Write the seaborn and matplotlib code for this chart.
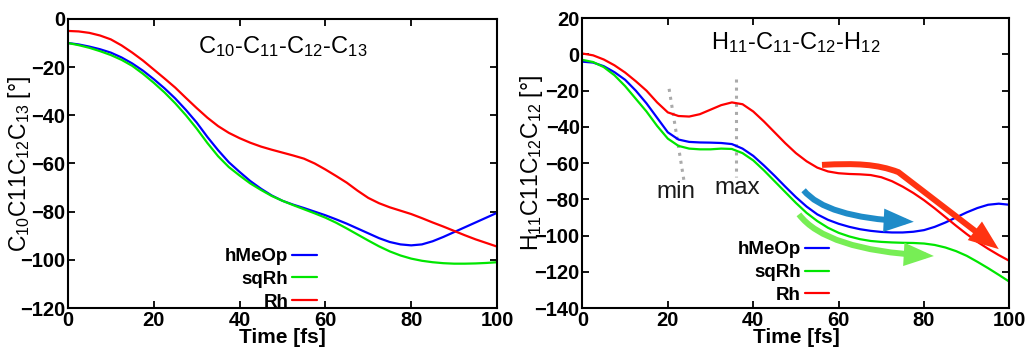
import numpy as np
import pandas as pd
import matplotlib
matplotlib.use("Agg")
import matplotlib.pyplot as plt
from matplotlib.patches import FancyArrowPatch
from matplotlib.path import Path
import seaborn as sns

# ---------------- data ----------------
time_fs = [0, 2.5, 5, 7.5, 10, 12.5, 15, 17.5, 20, 22.5, 25, 27.5, 30, 32.5, 35, 37.5, 40,
           42.5, 45, 47.5, 50, 52.5, 55, 57.5, 60, 62.5, 65, 67.5, 70, 72.5, 75, 77.5, 80,
           82.5, 85, 87.5, 90, 92.5, 95, 97.5, 100]
series_names = ["hMeOp", "sqRh", "Rh"]

# Left panel: C10-C11-C12-C13 dihedral
left_hMeOp = [-10, -10.6, -11.5, -12.6, -14, -16, -18.5, -21.5, -25, -28.8, -33, -37.8, -43,
              -49, -54.5, -59.5, -63.5, -67.3, -70.5, -73.3, -75.5, -77.1, -78.5, -80, -81.5,
              -83.2, -85, -87, -89, -91, -92.6, -93.6, -94, -93.6, -92.3, -90.5, -88.5, -86.5,
              -84.5, -82.5, -80.5]
left_sqRh = [-10, -10.9, -12, -13.4, -15, -17, -19.5, -22.8, -26.5, -30.5, -35, -40, -45.5,
             -51.5, -57, -61.5, -65, -68.3, -71, -73.5, -75.5, -77.3, -79, -80.7, -82.5, -84.6,
             -87, -89.5, -92, -94.4, -96.5, -98.2, -99.5, -100.4, -101, -101.4, -101.6, -101.6,
             -101.5, -101.3, -101]
left_Rh = [-5, -5.2, -5.8, -6.9, -8.5, -11, -14, -17.3, -21, -24.7, -28.5, -32.8, -37, -41,
           -44.5, -47.3, -49.5, -51.4, -53, -54.3, -55.5, -56.7, -58, -60, -62.5, -65.2, -68,
           -71.3, -74.3, -76.5, -78.2, -79.6, -81, -82.7, -84.5, -86.2, -88, -89.8, -91.5, -93,
           -94.5]

# Right panel: H11-C11-C12-H12 dihedral
right_hMeOp = [-4, -4.5, -6.5, -9.8, -14, -20, -27, -35, -43, -47, -48.3, -48.6, -48.7, -48.9,
               -49.5, -52, -56, -61.3, -67, -73, -78.8, -84, -88.3, -91.3, -93.5, -95.2, -96.5,
               -97.4, -98, -98.3, -98.3, -97.9, -97, -95.2, -92.8, -90, -87.2, -84.8, -83, -82.4,
               -83]
right_sqRh = [-3, -4.2, -7, -11.5, -17.5, -24.5, -31.5, -39.5, -46.5, -50.5, -52, -52.4, -52.4,
              -52, -52.2, -54.5, -58.5, -64, -70, -76, -82, -87.5, -92, -95.7, -98.5, -100.5,
              -102, -103, -103.5, -103.8, -104, -104.1, -104.4, -105.2, -106.6, -108.6, -111.2,
              -114.5, -118, -121.7, -125.5]
right_Rh = [0.5, -0.5, -2.8, -6, -10, -14.8, -20, -26.5, -32, -34, -34.3, -33, -30.5, -28,
            -26.5, -27.5, -31.5, -37, -43, -49, -54.5, -59, -62.5, -64.6, -65.6, -66, -66.2,
            -66.6, -67.8, -70, -73, -76.5, -80.5, -85, -89.8, -94.6, -99.2, -103.5, -107.3,
            -110.8, -114]

colors = {"hMeOp": "#0000ff", "sqRh": "#00e600", "Rh": "#ff0000"}

left_title = "C$_{10}$-C$_{11}$-C$_{12}$-C$_{13}$"
right_title = "H$_{11}$-C$_{11}$-C$_{12}$-H$_{12}$"
left_ylabel = "C$_{10}$C11C$_{12}$C$_{13}$ [°]"
right_ylabel = "H$_{11}$C11C$_{12}$C$_{12}$ [°]"
xlabel = "Time [fs]"

left_yticks = [0, -20, -40, -60, -80, -100, -120]
right_yticks = [20, 0, -20, -40, -60, -80, -100, -120, -140]
xticks = [0, 20, 40, 60, 80, 100]

# annotation guides (right panel)
min_guide = ([20.3, 23.8], [-19, -70])
max_guide = ([35.9, 35.9], [-13.5, -67.5])
min_label = (22, -76, "min")
max_label = (36.3, -74, "max")

# trend arrows (right panel)
blue_arrow = [(51.8, -75), (57, -90), (77.6, -92.4)]
green_arrow = [(50.7, -88.3), (57, -108), (82.3, -111.3)]
red_arrow = [(56.1, -61), (64, -60), (69, -60.5), (74, -65), (97.5, -107.5)]


def long_df(h, s, r):
    frames = []
    for name, vals in zip(series_names, [h, s, r]):
        frames.append(pd.DataFrame({"t": time_fs, "v": vals, "series": name}))
    return pd.concat(frames, ignore_index=True)


df_left = long_df(left_hMeOp, left_sqRh, left_Rh)
df_right = long_df(right_hMeOp, right_sqRh, right_Rh)

# ---------------- style ----------------
sns.set_theme(style="ticks")
plt.rcParams["font.family"] = ["Liberation Sans", "DejaVu Sans"]
plt.rcParams["mathtext.fontset"] = "custom"
plt.rcParams["mathtext.rm"] = "Liberation Sans"
plt.rcParams["mathtext.it"] = "Liberation Sans:italic"
plt.rcParams["mathtext.bf"] = "Liberation Sans:bold"
plt.rcParams["text.color"] = "black"
plt.rcParams["axes.labelcolor"] = "black"
plt.rcParams["xtick.color"] = "black"
plt.rcParams["ytick.color"] = "black"

fig = plt.figure(figsize=(10.29, 3.5), dpi=100)
axL = fig.add_axes([0.066, 0.12, 0.417, 0.826])
axR = fig.add_axes([0.566, 0.12, 0.415, 0.828])


def style_axis(ax, yticks, ylim, ylabel, title, leg_anchor, ylab_x):
    ax.set_xlim(0, 100)
    ax.set_ylim(*ylim)
    ax.set_xticks(xticks)
    ax.set_yticks(yticks)
    ax.tick_params(direction="in", length=5, width=1.3, top=True, right=True,
                   labelsize=14.5, pad=2, colors="black")
    for lab in ax.get_xticklabels() + ax.get_yticklabels():
        lab.set_fontweight("bold")
    for sp in ax.spines.values():
        sp.set_visible(True)
        sp.set_linewidth(1.5)
        sp.set_color("black")
    ax.set_xlabel(xlabel, fontsize=15, fontweight="bold", labelpad=-1, color="black")
    ax.set_ylabel(ylabel, fontsize=16.5, color="black")
    ax.yaxis.set_label_coords(ylab_x, 0.5)
    ax.text(50, title[1], title[0], fontsize=17, ha="center", va="center", color="black")
    handles, labels = ax.get_legend_handles_labels()
    leg = ax.legend(handles, labels, loc="lower right", bbox_to_anchor=leg_anchor,
                    frameon=False, markerfirst=False, handlelength=1.3,
                    handletextpad=0.2, labelspacing=0.3, borderaxespad=0,
                    prop={"weight": "bold", "size": 13.5})
    for t in leg.get_texts():
        t.set_ha("right")
        t.set_color("black")


for ax, df in [(axL, df_left), (axR, df_right)]:
    sns.lineplot(data=df, x="t", y="v", hue="series", hue_order=series_names,
                 palette=colors, linewidth=1.6, ax=ax, legend=True, sort=False)

style_axis(axL, left_yticks, (-120, 0), left_ylabel, (left_title, -11.5), (0.597, -0.035), -0.082)
style_axis(axR, right_yticks, (-140, 20), right_ylabel, (right_title, 6.5), (0.595, -0.012), -0.087)

# guides and labels in right panel
axR.plot(*min_guide, color="#aaaaaa", linestyle=":", linewidth=2.2, zorder=1)
axR.plot(*max_guide, color="#aaaaaa", linestyle=":", linewidth=2.2, zorder=1)
axR.text(min_label[0], min_label[1], min_label[2], fontsize=17.5, ha="center", va="center", color="#1a1a1a")
axR.text(max_label[0], max_label[1], max_label[2], fontsize=17.5, ha="center", va="center", color="#1a1a1a")


def curved_arrow(ax, pts, color, lw):
    if len(pts) == 3:
        codes = [Path.MOVETO, Path.CURVE3, Path.CURVE3]
    else:
        codes = [Path.MOVETO, Path.CURVE4, Path.CURVE4, Path.CURVE4, Path.LINETO]
    path = Path(pts, codes)
    arr = FancyArrowPatch(path=path, arrowstyle="-|>,head_length=8.5,head_width=3.3",
                          color=color, linewidth=lw, zorder=5, mutation_scale=1.6,
                          transform=ax.transData, joinstyle="miter", capstyle="butt")
    ax.add_patch(arr)


curved_arrow(axR, blue_arrow, "#1e8bc8", 4.3)
curved_arrow(axR, green_arrow, "#77ee55", 4.3)
curved_arrow(axR, red_arrow, "#ff3311", 4.3)

fig.savefig("out.png", dpi=100)
